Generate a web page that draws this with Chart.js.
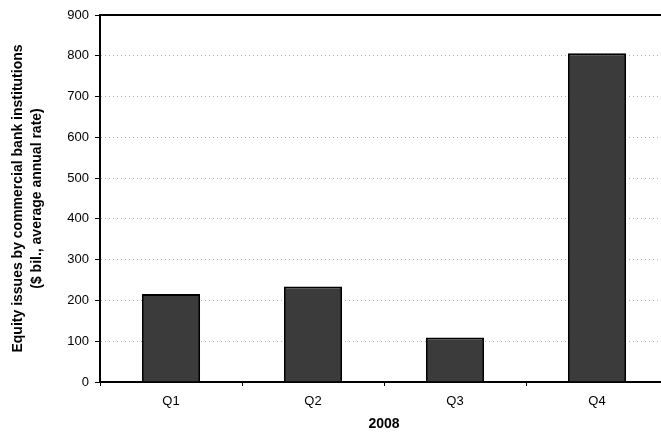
<!DOCTYPE html>
<html>
<head>
<meta charset="utf-8">
<script src="https://cdn.jsdelivr.net/npm/chart.js@4/dist/chart.umd.min.js"></script>
<style>
  html, body { margin: 0; padding: 0; background: #fff; overflow: hidden; }
  canvas { display: block; }
</style>
</head>
<body>
<canvas id="chart" width="670" height="439"></canvas>
<script>
// equity issues by commercial banks, 2008 (avg annual rate, $ bil.)
const quarters = ['Q1', 'Q2', 'Q3', 'Q4'];
const equityIssues = [216, 234, 109, 806];
const yTicks = [0, 100, 200, 300, 400, 500, 600, 700, 800, 900];

const FONT = 'Liberation Sans, Arial, sans-serif';

// solid top edge of the plot frame
const frameTop = {
  id: 'frameTop',
  afterDraw(chart) {
    const { ctx, chartArea } = chart;
    ctx.save();
    ctx.strokeStyle = '#000';
    ctx.lineWidth = 2;
    ctx.beginPath();
    ctx.moveTo(chartArea.left, chartArea.top);
    ctx.lineTo(chartArea.right, chartArea.top);
    ctx.stroke();
    ctx.restore();
  }
};

const ctx = document.getElementById('chart').getContext('2d');
const myChart = new Chart(ctx, {
  type: 'bar',
  data: {
    labels: quarters,
    datasets: [{
      data: equityIssues,
      backgroundColor: '#3b3b3b',
      borderColor: '#000',
      borderWidth: 2,
      barPercentage: 0.41,
      categoryPercentage: 1
    }]
  },
  options: {
    responsive: false,
    animation: false,
    layout: { padding: { top: 15, right: 2, left: 0, bottom: 0 } },
    plugins: {
      legend: { display: false },
      tooltip: { enabled: false }
    },
    scales: {
      x: {
        offset: true,
        grid: {
          display: true,
          offset: true,
          drawOnChartArea: false,
          tickLength: 4,
          tickColor: '#000'
        },
        border: { color: '#000', width: 2 },
        ticks: { color: '#000', font: { family: FONT, size: 13 }, padding: 8 },
        title: {
          display: true,
          text: '2008',
          color: '#000',
          font: { family: FONT, size: 14, weight: 'bold' },
          padding: { top: 4, bottom: 6 }
        },
        afterFit(scale) { scale.height = 57; }
      },
      y: {
        min: 0,
        max: 900,
        afterBuildTicks(scale) { scale.ticks = yTicks.map(v => ({ value: v })); },
        grid: {
          color: '#adadad',
          lineWidth: 1,
          tickLength: 5,
          tickColor: '#000'
        },
        border: { color: '#000', width: 2, dash: [1, 3] },
        ticks: { color: '#000', font: { family: FONT, size: 13 }, padding: 6 },
        title: {
          display: true,
          text: ['Equity issues by commercial bank institutions', '($ bil., average annual rate)'],
          color: '#000',
          font: { family: FONT, size: 14, weight: 'bold', lineHeight: 1.35 },
          padding: { top: 9, bottom: 0 }
        },
        afterFit(scale) { scale.width = 100; }
      }
    }
  },
  plugins: [frameTop]
});
</script>
</body>
</html>
